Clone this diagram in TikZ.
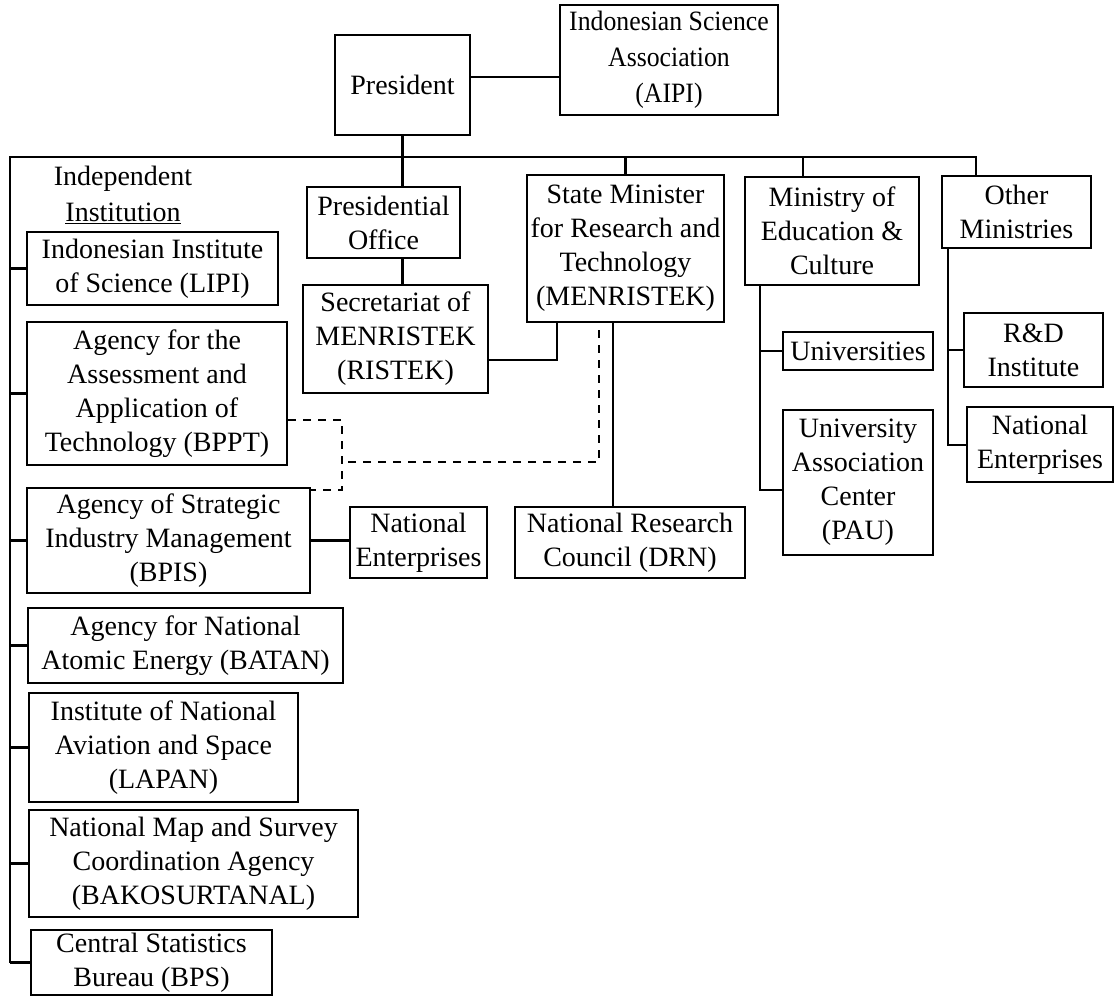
\documentclass[tikz,border=0pt]{standalone}
\usepackage{fontspec}
\setmainfont{Liberation Serif}
\newfontfamily\narrowfont[FakeStretch=0.92]{Liberation Serif}
\usetikzlibrary{calc}
\begin{document}
\begin{tikzpicture}[x=1pt,y=-1pt,
  box/.style={draw, line width=2.2pt, rectangle, inner sep=0pt, align=center,
              font=\fontsize{28}{34}\selectfont},
  nbox/.style={box, font=\narrowfont\fontsize{28}{36}\selectfont},
  link/.style={line width=2.2pt},
  dlink/.style={line width=2.2pt, dash pattern=on 8pt off 7pt}]
\useasboundingbox (0,0) rectangle (1116,999);

% top
\node[box, minimum width=135, minimum height=100] (pres) at (402.5,85) {President};
\node[nbox, minimum width=218, minimum height=110] (aipi) at (669,60) {Indonesian Science\\Association\\(AIPI)};

% second row
\node[box, minimum width=153, minimum height=71] (po) at (383.5,222.5) {Presidential\\Office};
\node[box, minimum width=185, minimum height=108] (sec) at (395.5,339) {Secretariat of\\MENRISTEK\\(RISTEK)};
\node[box, minimum width=197, minimum height=147] (smin) at (625.5,248.5) {State Minister\\for Research and\\Technology\\(MENRISTEK)};
\node[box, minimum width=174, minimum height=108] (moe) at (832,231) {Ministry of\\Education \&\\Culture};
\node[box, minimum width=149, minimum height=72] (oth) at (1016.5,212) {Other\\Ministries};
\node[box, minimum width=150, minimum height=38] (univ) at (858,351) {Universities};
\node[box, minimum width=150, minimum height=145] (uac) at (858,482.5) {University\\Association\\Center\\(PAU)};
\node[box, minimum width=139, minimum height=74] (rnd) at (1033.5,350) {R\&D\\Institute};
\node[box, minimum width=146, minimum height=75] (ne2) at (1040,444.5) {National\\Enterprises};

% independent institutions
\node[font=\fontsize{28}{36}\selectfont, align=center, inner sep=0pt] (indep) at (123,195) {Independent\\\underline{Institution}};
\node[box, minimum width=251, minimum height=73] (lipi) at (152.5,268.5) {Indonesian Institute\\of Science (LIPI)};
\node[box, minimum width=260, minimum height=143] (bppt) at (157,393.5) {Agency for the\\Assessment and\\Application of\\Technology (BPPT)};
\node[box, minimum width=283, minimum height=105] (bpis) at (168.5,540.5) {Agency of Strategic\\Industry Management\\(BPIS)};
\node[box, minimum width=137, minimum height=71] (ne1) at (418.5,542.5) {National\\Enterprises};
\node[box, minimum width=230, minimum height=71] (drn) at (630,542.5) {National Research\\Council (DRN)};
\node[box, minimum width=315, minimum height=75] (batan) at (185.5,645.5) {Agency for National\\Atomic Energy (BATAN)};
\node[box, minimum width=269, minimum height=109] (lapan) at (163.5,747.5) {Institute of National\\Aviation and Space\\(LAPAN)};
\node[box, minimum width=329, minimum height=107] (bako) at (193.5,863.5) {National Map and Survey\\Coordination Agency\\(BAKOSURTANAL)};
\node[box, minimum width=241, minimum height=65] (bps) at (151.5,962.5) {Central Statistics\\Bureau (BPS)};

% coordinates
\coordinate (pa) at (470,77);
\coordinate (busL) at (10,157);
\coordinate (busR) at (976,157);
\coordinate (moeb) at (803,157);
\coordinate (sx) at (557,360);
\coordinate (sd) at (613,322);
\coordinate (mv) at (760,490);
\coordinate (ov) at (948,445);
\coordinate (d1) at (342,420);
\coordinate (d2) at (342,490);
\coordinate (d3) at (599,462);
\coordinate (d4) at (599,330);

% solid connectors
\draw[link] (pres.east |- pa) -- (aipi.west |- pa);
\draw[link] (pres.south) -- (pres.south |- po.north);
\draw[link] (pres.south |- po.south) -- (pres.south |- sec.north);
\draw[link] (busL |- bps.west) -- (busL) -- (busR) -- (busR |- oth.north);
\draw[link] (smin.north |- busL) -- (smin.north);
\draw[link] (moeb) -- (moeb |- moe.north);
\foreach \n in {lipi,bppt,bpis,batan,lapan,bako,bps}
  \draw[link] (busL |- \n.west) -- (\n.west);
\draw[link] (sec.east |- sx) -- (sx) -- (sx |- smin.south);
\draw[link] (sd |- smin.south) -- (sd |- drn.north);
\draw[link] (bpis.east) -- (bpis.east -| ne1.west);
\draw[link] (mv |- moe.south) -- (mv) -- (mv -| uac.west);
\draw[link] (mv |- univ.west) -- (univ.west);
\draw[link] (ov |- oth.south) -- (ov) -- (ov -| ne2.west);
\draw[link] (ov |- rnd.west) -- (rnd.west);

% dashed connectors
\draw[dlink] (bppt.east |- d1) -- (d1) -- (d2) -- (bpis.east |- d2);
\draw[dlink] (d4) -- (d3) -- (d3 -| d1);
\end{tikzpicture}
\end{document}
